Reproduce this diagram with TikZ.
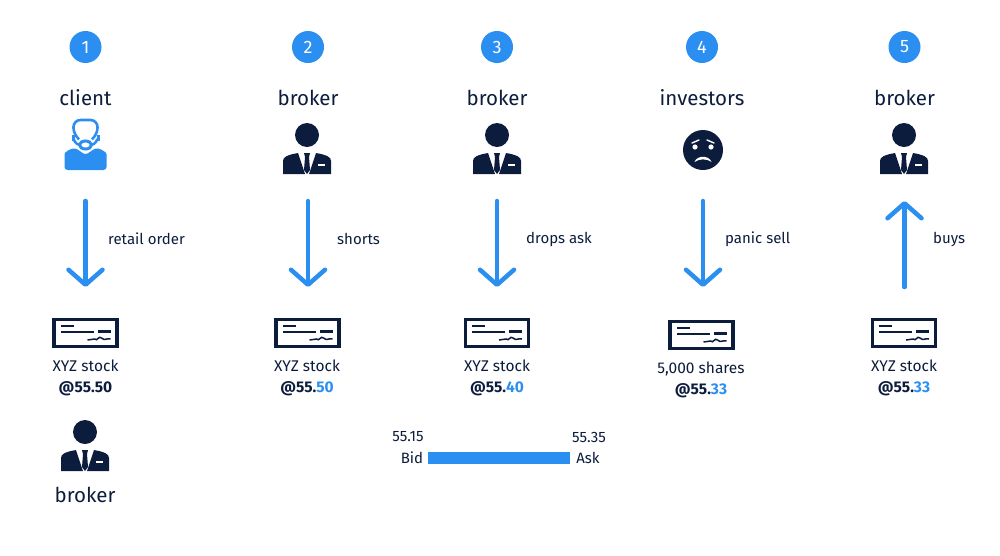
\documentclass[tikz,border=0pt]{standalone}
\usepackage{fontspec}
\setmainfont{Fira Sans}
\usetikzlibrary{arrows.meta}
\definecolor{tradeblue}{HTML}{2B8FF2}
\definecolor{tradenavy}{HTML}{0C1C3C}
\newcommand{\blu}[1]{\textcolor{tradeblue}{#1}}
\tikzset{
  num/.style={circle,fill=tradeblue,text=white,minimum size=32pt,inner sep=0pt,font=\fontsize{18}{18}\selectfont},
  who/.style={text=tradenavy,inner sep=0pt,font=\fontsize{20.5}{22}\selectfont},
  lbl/.style={text=tradenavy,inner sep=0pt,anchor=west,font=\fontsize{15}{18}\selectfont},
  stock/.style={text=tradenavy,inner sep=0pt,align=center,font=\fontsize{15.5}{20.5}\selectfont},
  small/.style={text=tradenavy,inner sep=0pt,font=\fontsize{15}{18}\selectfont},
  flow/.style={tradeblue,line width=4.5pt,line cap=round,-{Straight Barb[length=15pt,width=34pt,round,line width=4.5pt]}},
  broker/.pic={
    \fill[tradenavy] (0,-15) circle (12);
    \fill[tradenavy] (-24,24) -- (-24,11) .. controls (-24,7) and (-20,5) .. (-9,3) -- (-2,24) -- cycle;
    \fill[tradenavy] (24,24) -- (24,11) .. controls (24,7) and (20,5) .. (9,3) -- (2,24) -- cycle;
    \fill[tradenavy] (-3,3) -- (3,3) -- (2,7) -- (3,20) -- (0,24) -- (-3,20) -- (-2,7) -- cycle;
    \fill[white] (11,14) rectangle (18,15.5);
  },
  client/.pic={
    \draw[tradeblue,line width=2.6pt,rounded corners=7pt] (-8,-9) -- (-12,-12) -- (-12,-27) -- (12,-27) -- (12,-12) -- (8,-9);
    \fill[tradeblue] (-14,-12) rectangle (-11,-6);
    \fill[tradeblue] (11,-12) rectangle (14,-6);
    \draw[tradeblue,line width=2.6pt] (-12,-8) .. controls (-10,-3) and (-7,-2) .. (-5,-2);
    \draw[tradeblue,line width=2.6pt] (12,-8) .. controls (10,-3) and (7,-2) .. (5,-2);
    \draw[tradeblue,line width=3pt] (0,-2) ellipse (6 and 4);
    \fill[tradeblue,rounded corners=3pt] (-21,23) -- (-21,10) .. controls (-21,5) and (-15,2) .. (-10,1) -- (0,8) -- (10,1) .. controls (15,2) and (21,5) .. (21,10) -- (21,23) -- cycle;
  },
  worried/.pic={
    \fill[tradenavy] (0,0) circle (20);
    \draw[white,line width=1.4pt,line cap=round] (-11,-7) -- (-4,-10);
    \draw[white,line width=1.4pt,line cap=round] (11,-7) -- (4,-10);
    \fill[white] (-8,-3) circle (2.6);
    \fill[white] (8,-3) circle (2.6);
    \fill[white] (-8.5,12) .. controls (-6,5) and (6,5) .. (8.5,12) .. controls (4,8.5) and (-4,8.5) .. (-8.5,12) -- cycle;
  },
  cheque/.pic={
    \draw[tradenavy,line width=3.6pt] (-31.5,-13.5) rectangle (31.5,13.5);
    \fill[tradenavy] (-25,-8) rectangle (-12,-6);
    \fill[tradenavy] (-25,-2) rectangle (8,0);
    \fill[tradenavy] (12,-3) rectangle (25,0);
    \draw[tradenavy,line width=1.5pt] (2,7) .. controls (5,8) and (6,5) .. (9,6) .. controls (12,9) and (13,2) .. (16,5) .. controls (19,8) and (21,5) .. (25,6);
  }
}
\begin{document}
\begin{tikzpicture}[x=1pt,y=-1pt]
  \useasboundingbox (0,0) rectangle (1000,555);
  % step numbers
  \node[num] (n1) at (85.5,47) {1};
  \node[num] (n2) at (308,47) {2};
  \node[num] (n3) at (497,47) {3};
  \node[num] (n4) at (702,47) {4};
  \node[num] (n5) at (904.5,47) {5};
  % who acts
  \node[who] (w1) at (85.5,98) {client};
  \node[who] (w2) at (308,98) {broker};
  \node[who] (w3) at (497,98) {broker};
  \node[who] (w4) at (702,98) {investors};
  \node[who] (w5) at (904.5,98) {broker};
  \pic at (85.5,147) {client};
  \pic at (307,150) {broker};
  \pic at (497,150) {broker};
  \pic at (703,150) {worried};
  \pic at (904,150) {broker};
  % arrows
  \coordinate (a1) at (85.5,201);
  \coordinate (b1) at (85.5,287);
  \coordinate (a2) at (308,201);
  \coordinate (b2) at (308,287);
  \coordinate (a3) at (497,201);
  \coordinate (b3) at (497,287);
  \coordinate (a4) at (703,201);
  \coordinate (b4) at (703,287);
  \coordinate (a5) at (904.5,287);
  \coordinate (b5) at (904.5,201);
  \draw[flow] (a1) -- (b1);
  \draw[flow] (a2) -- (b2);
  \draw[flow] (a3) -- (b3);
  \draw[flow] (a4) -- (b4);
  \draw[flow] (a5) -- (b5);
  \node[lbl] (l1) at (108,239) {retail order};
  \node[lbl] (l2) at (337,239) {shorts};
  \node[lbl] (l3) at (526,239) {drops ask};
  \node[lbl] (l4) at (725,239) {panic sell};
  \node[lbl] (l5) at (933,239) {buys};
  % cheques
  \pic at (85.5,333) {cheque};
  \pic at (307.5,333) {cheque};
  \pic at (497,333) {cheque};
  \pic at (701.5,335) {cheque};
  \pic at (904,333) {cheque};
  \node[stock] (s1) at (85.5,378) {XYZ stock\\\textbf{@55.50}};
  \node[stock] (s2) at (307,378) {XYZ stock\\\textbf{@55.\blu{50}}};
  \node[stock] (s3) at (497,378) {XYZ stock\\\textbf{@55.\blu{40}}};
  \node[stock] (s4) at (701,380) {5,000 shares\\\textbf{@55.\blu{33}}};
  \node[stock] (s5) at (904,378) {XYZ stock\\\textbf{@55.\blu{33}}};
  % bottom left broker
  \pic at (85,447) {broker};
  \node[who] (w6) at (85,495) {broker};
  % spread
  \fill[tradeblue] (428,452) rectangle (570,464);
  \node[small] (bidp) at (408,437) {55.15};
  \node[small] (bid) at (412,458) {Bid};
  \node[small] (askp) at (589,437) {55.35};
  \node[small] (ask) at (588,458) {Ask};
\end{tikzpicture}
\end{document}
